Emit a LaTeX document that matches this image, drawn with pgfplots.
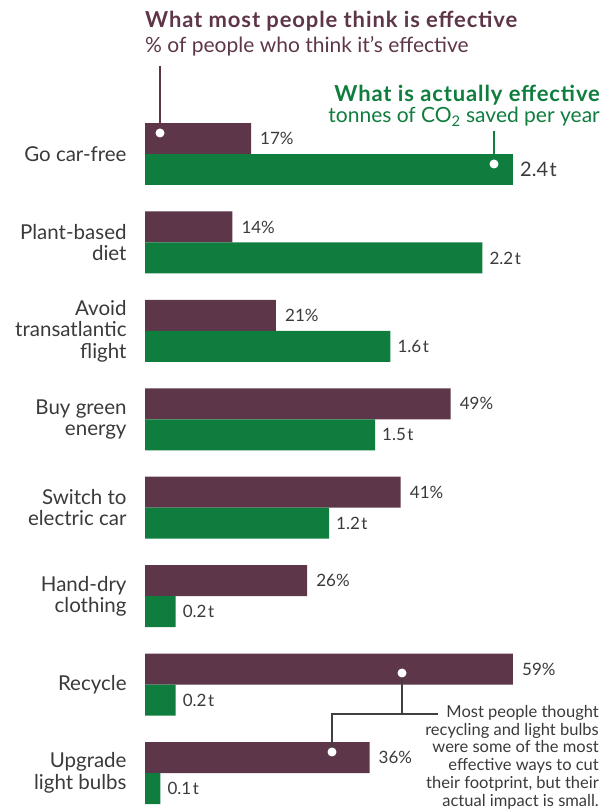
\documentclass[border=0pt]{standalone}
\usepackage{pgfplots}
\pgfplotsset{compat=1.18}
\usepackage{fontspec}
\setmainfont{Lato}
\definecolor{purp}{HTML}{5E3649}
\definecolor{grn}{HTML}{0F7D3E}
\definecolor{txt}{HTML}{3A3A3A}
\definecolor{lead}{HTML}{404040}

\begin{document}
\begin{tikzpicture}[x=1pt,y=1pt]
\path[use as bounding box] (0pt,0pt) rectangle (603pt,811pt);
\pgfplotsset{
  common/.style={
    at={(145pt,811pt)}, anchor=north west, scale only axis,
    width=368pt, height=811pt, xmin=0,
    ymin=-1.7415, ymax=7.4294, y dir=reverse,
    axis line style={draw=none}, tick style={draw=none},
    xtick=\empty, clip=false, xbar, bar width=31pt,
    /pgf/number format/assume math mode=true,
  }
}
% purple: % of people who think it's effective
\begin{axis}[common, xmax=59,
  ytick={0,...,7},
  yticklabels={{Go car-free},{Plant-based\\diet},{Avoid\\transatlantic\\flight},{Buy green\\energy},{Switch to\\electric car},{Hand-dry\\clothing},{Recycle},{Upgrade\\light bulbs}},
  yticklabel style={align=right, font=\fontsize{20.5}{21.5}\selectfont, text=txt, anchor=east, inner sep=0pt, xshift=-14pt},
]
\addplot[fill=purp, draw=none, bar shift=15.5pt,
  nodes near coords={\pgfmathprintnumber{\pgfplotspointmeta}\%},
  nodes near coords style={font=\fontsize{17}{19}\selectfont, text=txt, anchor=west, inner sep=0pt, xshift=9pt},
] coordinates {(17,0) (14,1) (21,2) (49,3) (41,4) (26,5) (59,6) (36,7)};
\end{axis}
% green: tonnes of CO2 saved per year
\begin{axis}[common, xmax=2.4, ytick=\empty]
\addplot[fill=grn, draw=none, bar shift=-15.5pt,
  nodes near coords={\pgfmathprintnumber[fixed,precision=1,fixed zerofill]{\pgfplotspointmeta}\kern1.5pt t},
  nodes near coords style={font=\fontsize{20}{22}\selectfont, text=txt, anchor=west, inner sep=0pt, xshift=7pt},
] coordinates {(2.4,0)};
\addplot[fill=grn, draw=none, bar shift=-15.5pt,
  nodes near coords={\pgfmathprintnumber[fixed,precision=1,fixed zerofill]{\pgfplotspointmeta}\kern1.5pt t},
  nodes near coords style={font=\fontsize{17}{19}\selectfont, text=txt, anchor=west, inner sep=0pt, xshift=7pt},
] coordinates {(2.2,1) (1.6,2) (1.5,3) (1.2,4) (0.2,5) (0.2,6) (0.1,7)};
\end{axis}
% titles
\node[anchor=base west, inner sep=0, text=purp, font=\bfseries\fontsize{22}{24}\selectfont\addfontfeature{LetterSpace=4}] at (145pt,783pt) {What most people think is effective};
\node[anchor=base west, inner sep=0, text=purp, font=\fontsize{21}{23}\selectfont] at (145pt,758pt) {\% of people who think it’s effective};
\draw[purp, line width=2pt] (160pt,745pt) -- (160pt,678pt);
\fill[white] (160pt,678pt) circle (4.5pt);
\node[anchor=base east, inner sep=0, text=grn, font=\bfseries\fontsize{22}{24}\selectfont\addfontfeature{LetterSpace=4}] at (600pt,709pt) {What is actually effective};
\node[anchor=base east, inner sep=0, text=grn, font=\fontsize{21}{23}\selectfont] at (600pt,688pt) {tonnes of CO\textsubscript{2} saved per year};
\draw[grn, line width=2pt] (494pt,680pt) -- (494pt,647pt);
\fill[white] (494pt,647pt) circle (4.5pt);
% annotation
\draw[lead, line width=2.2pt] (402pt,138pt) -- (402pt,97pt);
\draw[lead, line width=2.2pt] (332pt,59pt) -- (332pt,97pt) -- (438pt,97pt);
\fill[white] (402pt,138pt) circle (4.5pt);
\fill[white] (332pt,59pt) circle (4.5pt);
\node[anchor=north east, inner sep=0, align=right, text=txt, font=\fontsize{16.5}{17.8}\selectfont] at (599pt,106pt) {Most people thought\\recycling and light bulbs\\were some of the most\\effective ways to cut\\their footprint, but their\\actual impact is small.};
\end{tikzpicture}
\end{document}
